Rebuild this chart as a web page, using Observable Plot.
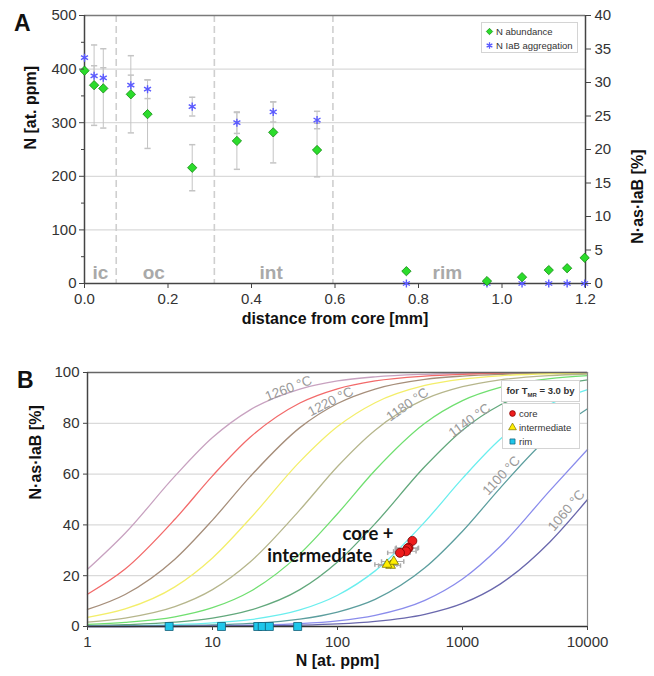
<!DOCTYPE html>
<html><head><meta charset="utf-8">
<script src="https://cdn.jsdelivr.net/npm/d3@7"></script>
<script src="https://cdn.jsdelivr.net/npm/@observablehq/plot@0.6"></script>
<style>
html,body{margin:0;padding:0;background:#fff;}
#wrap{position:relative;width:654px;height:676px;overflow:hidden;font-family:"Liberation Sans",Arial,sans-serif;}
#panelA,#panelB{position:absolute;left:0;}
#panelA{top:0;} #panelB{top:340px;}
.plabel{position:absolute;font-weight:bold;font-size:23px;line-height:23px;color:#111;}
.leg{position:absolute;background:#fff;border:1px solid #d4d4d4;font-size:9.5px;color:#333;box-sizing:border-box;}
.leg .row{display:flex;align-items:center;white-space:nowrap;height:14px;}
.leg svg{margin-right:2px;flex:none;}
</style></head><body>
<div id="wrap">
  <div id="panelA"></div>
  <div id="panelB"></div>
  <div class="plabel" style="left:14px;top:12px">A</div>
  <div class="plabel" style="left:17px;top:369px">B</div>
  <div class="leg" id="legA" style="left:481px;top:22px;width:97px;height:31px;padding:1px 0 0 3px;"></div>
  <div class="leg" id="legBt" style="left:501px;top:380px;width:79px;height:22px;font-weight:bold;text-align:center;line-height:20px;">for T<sub style="font-size:6px">MR</sub> = 3.0 by</div>
  <div class="leg" id="legB" style="left:502px;top:403px;width:78px;height:46px;padding:2px 0 0 5px;"></div>
</div>
<script>
// ---------- Panel A data (profile across the diamond) ----------
const distance        = [0.0, 0.023, 0.045, 0.111, 0.151, 0.258, 0.365, 0.452, 0.557, 0.771, 0.964, 1.048, 1.112, 1.156, 1.198];
const nAbundance      = [397, 370, 364, 353, 316, 216, 266, 282, 249, 23, 4.5, 11.8, 25, 28.5, 48];
const nAbundanceErr   = [0, 75, 74, 72, 64, 43, 53, 57, 50, 0, 0, 0, 0, 0, 0];
const iabAggregation  = [33.7, 31.0, 30.7, 29.6, 29.0, 26.4, 24.0, 25.6, 24.4, 0, 0, 0, 0, 0, 0];
const iabErr          = [0, 1.5, 1.5, 1.5, 1.4, 1.4, 1.6, 1.5, 1.3, 0, 0, 0, 0, 0, 0];
const zoneB           = ["core","core","core","core","core",null,"intermediate","intermediate","intermediate","rim","rim","rim","rim","rim","rim"];
const zoneBoundaries  = [0.076, 0.311, 0.595];
const zoneNames       = ["ic", "oc", "int", "rim"];
const zoneNameX       = [0.038, 0.166, 0.447, 0.869];
const xTicksA         = [0, 0.2, 0.4, 0.6, 0.8, 1.0, 1.2];
const yTicksA         = [0, 100, 200, 300, 400, 500];
const yMinorA         = [50, 150, 250, 350, 450];
const ticksAggregation = [0, 5, 10, 15, 20, 25, 30, 35, 40];

// ---------- Panel B data (isotherms, T_MR = 3.0 by) ----------
const curveN   = [1, 2, 5, 10, 20, 50, 100, 200, 500, 1000, 2000, 5000, 10000];
const iso1260  = [22.5, 36.7, 59.2, 74.4, 85.3, 93.5, 96.7, 98.3, 99.3, 99.7, 99.8, 99.9, 100.0];
const iso1240  = [12.7, 22.6, 42.2, 59.3, 74.5, 88.0, 93.6, 96.7, 98.6, 99.3, 99.7, 99.9, 99.9];
const iso1220  = [6.7, 12.6, 26.5, 41.9, 59.0, 78.3, 87.8, 93.5, 97.3, 98.6, 99.3, 99.7, 99.9];
const iso1200  = [3.6, 6.9, 15.6, 27.0, 42.5, 64.9, 78.7, 88.1, 94.9, 97.4, 98.7, 99.5, 99.7];
const iso1180  = [1.7, 3.3, 7.8, 14.5, 25.4, 45.9, 63.0, 77.3, 89.5, 94.4, 97.1, 98.8, 99.4];
const iso1160  = [0.8, 1.6, 3.8, 7.4, 13.8, 28.6, 44.4, 61.5, 80.0, 88.9, 94.1, 97.6, 98.8];
const iso1140  = [0.3, 0.7, 1.7, 3.3, 6.4, 14.5, 25.4, 40.5, 63.0, 77.3, 87.2, 94.4, 97.1];
const iso1120  = [0.1, 0.3, 0.7, 1.4, 2.7, 6.5, 12.3, 21.9, 41.2, 58.3, 73.7, 87.5, 93.3];
const iso1100  = [0.1, 0.1, 0.3, 0.6, 1.2, 2.9, 5.7, 10.7, 23.1, 37.5, 54.5, 75.0, 85.7];
const iso1080  = [0.0, 0.0, 0.1, 0.2, 0.5, 1.1, 2.2, 4.4, 10.3, 18.7, 31.5, 53.5, 69.7];
const iso1060  = [0.0, 0.0, 0.0, 0.1, 0.2, 0.5, 1.0, 2.0, 4.8, 9.1, 16.7, 33.3, 50.0];
const temperatures = ["1260 °C","1240 °C","1220 °C","1200 °C","1180 °C","1160 °C","1140 °C","1120 °C","1100 °C","1080 °C","1060 °C"];
const isoValues = [iso1260, iso1240, iso1220, iso1200, iso1180, iso1160, iso1140, iso1120, iso1100, iso1080, iso1060];
const isoLabelText = ["1260 °C","1220 °C","1180 °C","1140 °C","1100 °C","1060 °C"];
const isoLabelN    = [40.5, 88, 363, 1138, 2050, 6790];
const isoLabelPct  = [93.7, 88.6, 87.4, 81.1, 59.4, 45.7];
const annotText = ["core +", "intermediate"];
const annotN    = [281, 190];
const annotPct  = [33.9, 25.2];
const xTicksB = [1, 10, 100, 1000, 10000];
const yTicksB = [0, 20, 40, 60, 80, 100];

// ---------- styles ----------
const isoColors = ["#c8a2c0","#f26a6a","#a68e7a","#f3ee6a","#b6b68c","#70df70","#62a87c","#6aeeee","#5c9e9e","#8a8cec","#6a68ad"];
const isoLabelRotate = [-21, -27, -35, -36, -47, -50];
const GREEN = "#2bdc2b", GREEN_S = "#138a13", BLUE = "#5a5aff";
const RED = "#ee1c1c", RED_S = "#7a0000", YEL = "#ffee00", YEL_S = "#7a7400", CYAN = "#1fc6ea", CYAN_S = "#135f7a";
const FONT = '"Liberation Sans", Arial, sans-serif';
const PCT_TO_PPM = 500 / 40;

const hbar = {draw(ctx, size) { const r = Math.sqrt(size) / 2; ctx.moveTo(-r, 0); ctx.lineTo(r, 0); }};
const vbar = {draw(ctx, size) { const r = Math.sqrt(size) / 2; ctx.moveTo(0, -r); ctx.lineTo(0, r); }};

const pts = distance.map((x, i) => ({x, n: nAbundance[i], nErr: nAbundanceErr[i], p: iabAggregation[i], pErr: iabErr[i], zone: zoneB[i]}));
const errN = pts.filter(d => d.nErr > 0);
const errP = pts.filter(d => d.pErr > 0);

const A = Plot.plot({
  width: 654, height: 340,
  marginTop: 15, marginBottom: 57, marginLeft: 84, marginRight: 69,
  style: {fontFamily: FONT, fontSize: "15px", color: "#333", background: "transparent", overflow: "visible"},
  x: {domain: [0, 1.2]},
  y: {domain: [0, 500]},
  marks: [
    Plot.ruleY([100, 200, 300, 400], {stroke: "#dadada", strokeWidth: 1.2}),
    Plot.ruleX(zoneBoundaries, {stroke: "#cfcfcf", strokeWidth: 1.6, strokeDasharray: "7,4"}),
    Plot.text(zoneNames, {x: (d, i) => zoneNameX[i], y: 9, text: d => d, lineAnchor: "bottom", fontSize: 19, fontWeight: "bold", fill: "#a9a9a9"}),
    Plot.ruleX(errN, {x: "x", y1: d => d.n - d.nErr, y2: d => d.n + d.nErr, stroke: "#c4c4c4"}),
    Plot.dot(errN, {x: "x", y: d => d.n - d.nErr, symbol: hbar, r: 3.5, stroke: "#c4c4c4", fill: "none"}),
    Plot.dot(errN, {x: "x", y: d => d.n + d.nErr, symbol: hbar, r: 3.5, stroke: "#c4c4c4", fill: "none"}),
    Plot.ruleX(errP, {x: "x", y1: d => (d.p - d.pErr) * PCT_TO_PPM, y2: d => (d.p + d.pErr) * PCT_TO_PPM, stroke: "#c4c4c4"}),
    Plot.dot(errP, {x: "x", y: d => (d.p + d.pErr) * PCT_TO_PPM, symbol: hbar, r: 3.5, stroke: "#c4c4c4", fill: "none"}),
    Plot.dot(errP, {x: "x", y: d => (d.p - d.pErr) * PCT_TO_PPM, symbol: hbar, r: 3.5, stroke: "#c4c4c4", fill: "none"}),
    Plot.ruleY([500], {stroke: "#7a7a7a", strokeWidth: 1.5}),
    Plot.ruleX([0], {stroke: "#444", strokeWidth: 1.5}),
    Plot.ruleX([1.2], {stroke: "#444", strokeWidth: 1.5}),
    Plot.ruleY([0], {stroke: "#444", strokeWidth: 1.5}),
    Plot.dot(pts, {x: "x", y: d => d.p * PCT_TO_PPM, symbol: "asterisk", r: 3.8, stroke: BLUE, strokeWidth: 1.4}),
    Plot.dot(pts, {x: "x", y: "n", symbol: "diamond2", r: 4.2, fill: GREEN, stroke: GREEN_S, strokeWidth: 0.8}),
    Plot.axisX({ticks: xTicksA, tickFormat: d => d.toFixed(1), tickSize: 5, tickPadding: 5, label: null, fontSize: 15, stroke: "#444"}),
    Plot.axisY({anchor: "left", ticks: yTicksA, tickSize: 5, tickPadding: 3, label: null, fontSize: 15, stroke: "#444"}),
    Plot.axisY({anchor: "left", ticks: yMinorA, tickSize: 3, tickFormat: () => "", label: null, stroke: "#444"}),
    Plot.axisY({anchor: "right", ticks: ticksAggregation.map(v => v * PCT_TO_PPM), tickFormat: d => String(d / PCT_TO_PPM), tickSize: 5, tickPadding: 4, label: null, fontSize: 15, stroke: "#444"}),
    Plot.text(["N [at. ppm]"], {frameAnchor: "left", dx: -54, rotate: -90, text: d => d, fontSize: 16, fontWeight: "bold", fill: "#111"}),
    Plot.text(["N·as·IaB [%]"], {frameAnchor: "right", dx: 52, rotate: -90, text: d => d, fontSize: 16, fontWeight: "bold", fill: "#111"}),
    Plot.text(["distance from core [mm]"], {frameAnchor: "bottom", dy: 40, text: d => d, fontSize: 16, fontWeight: "bold", fill: "#111"})
  ]
});
document.getElementById("panelA").append(A);

// ---------- Panel B ----------
const curveTable = temperatures.flatMap((t, j) => curveN.map((n, i) => ({T: t, N: n, pct: isoValues[j][i]})));
const core = pts.filter(d => d.zone === "core");
const inter = pts.filter(d => d.zone === "intermediate");
const rim = pts.filter(d => d.zone === "rim");
const ci = core.concat(inter);
const isoLabels = isoLabelText.map((t, i) => ({t, N: isoLabelN[i], pct: isoLabelPct[i], rot: isoLabelRotate[i]}));
const annots = annotText.map((t, i) => ({t, N: annotN[i], pct: annotPct[i]}));

const B = Plot.plot({
  width: 654, height: 336,
  marginTop: 32, marginBottom: 50, marginLeft: 87, marginRight: 67,
  style: {fontFamily: FONT, fontSize: "15px", color: "#333", background: "transparent", overflow: "visible"},
  x: {type: "log", domain: [1, 10000]},
  y: {domain: [0, 100]},
  color: {domain: temperatures, range: isoColors},
  marks: [
    Plot.ruleY([20, 40, 60, 80], {stroke: "#dadada", strokeWidth: 1.2}),
    Plot.line(curveTable, {x: "N", y: "pct", z: "T", stroke: "T", curve: "monotone-x", strokeWidth: 1.3}),
    Plot.text(isoLabels, {x: "N", y: "pct", text: "t", rotate: "rot", fontSize: 13.5, fill: "#9a9a9a"}),
    Plot.ruleY([100], {stroke: "#666", strokeWidth: 1.5}),
    Plot.ruleX([1], {stroke: "#444", strokeWidth: 1.5}),
    Plot.ruleX([10000], {stroke: "#8a8a8a", strokeWidth: 1.2}),
    Plot.ruleY([0], {stroke: "#333", strokeWidth: 1.5}),
    Plot.ruleY(ci, {y: "p", x1: d => d.n - d.nErr, x2: d => d.n + d.nErr, stroke: "#aaa"}),
    Plot.dot(ci, {x: d => d.n - d.nErr, y: "p", symbol: vbar, r: 2.5, stroke: "#aaa", fill: "none"}),
    Plot.dot(ci, {x: d => d.n + d.nErr, y: "p", symbol: vbar, r: 2.5, stroke: "#aaa", fill: "none"}),
    Plot.ruleX(ci, {x: "n", y1: d => d.p - d.pErr, y2: d => d.p + d.pErr, stroke: "#aaa"}),
    Plot.dot(rim, {x: "n", y: "p", symbol: "square", r: 4.5, fill: CYAN, stroke: CYAN_S, strokeWidth: 0.8}),
    Plot.dot(core, {x: "n", y: "p", symbol: "circle", r: 4.5, fill: RED, stroke: RED_S, strokeWidth: 0.8}),
    Plot.dot(inter, {x: "n", y: "p", symbol: "triangle", r: 3.6, fill: YEL, stroke: YEL_S, strokeWidth: 0.8}),
    Plot.text(annots, {x: "N", y: "pct", text: "t", textAnchor: "end", lineAnchor: "bottom", fontFamily: "Lato, 'Open Sans', sans-serif", fontSize: 18.5, fontWeight: "bold", fill: "#111"}),
    Plot.axisX({ticks: xTicksB, tickFormat: d => String(d), tickSize: 4, tickPadding: 6, label: null, fontSize: 15, stroke: "#444"}),
    Plot.axisY({ticks: yTicksB, tickSize: 4, tickPadding: 4, label: null, fontSize: 15, stroke: "#444"}),
    Plot.text(["N·as·IaB [%]"], {frameAnchor: "left", dx: -52, rotate: -90, text: d => d, fontSize: 16, fontWeight: "bold", fill: "#111"}),
    Plot.text(["N [at. ppm]"], {frameAnchor: "bottom", dy: 39, text: d => d, fontSize: 16, fontWeight: "bold", fill: "#111"})
  ]
});
document.getElementById("panelB").append(B);

// ---------- legends ----------
function sym(type, fill, stroke) {
  const ns = "http://www.w3.org/2000/svg";
  const s = document.createElementNS(ns, "svg");
  s.setAttribute("width", 9); s.setAttribute("height", 9);
  const p = document.createElementNS(ns, "path");
  const sz = type === d3.symbolAsterisk ? 30 : 26;
  p.setAttribute("d", d3.symbol(type, sz)());
  p.setAttribute("transform", "translate(4.5,4.5)");
  p.setAttribute("fill", fill); p.setAttribute("stroke", stroke); p.setAttribute("stroke-width", type === d3.symbolAsterisk ? 1.3 : 0.7);
  s.append(p);
  return s;
}
function row(el, svg, label) {
  const r = document.createElement("div"); r.className = "row";
  r.append(svg); r.append(document.createTextNode(label)); el.append(r);
}
const legA = document.getElementById("legA");
row(legA, sym(d3.symbolDiamond2, GREEN, GREEN_S), "N abundance");
row(legA, sym(d3.symbolAsterisk, "none", BLUE), "N IaB aggregation");
const legB = document.getElementById("legB");
row(legB, sym(d3.symbolCircle, RED, RED_S), "core");
row(legB, sym(d3.symbolTriangle, YEL, YEL_S), "intermediate");
row(legB, sym(d3.symbolSquare, CYAN, CYAN_S), "rim");
</script>
</body></html>
